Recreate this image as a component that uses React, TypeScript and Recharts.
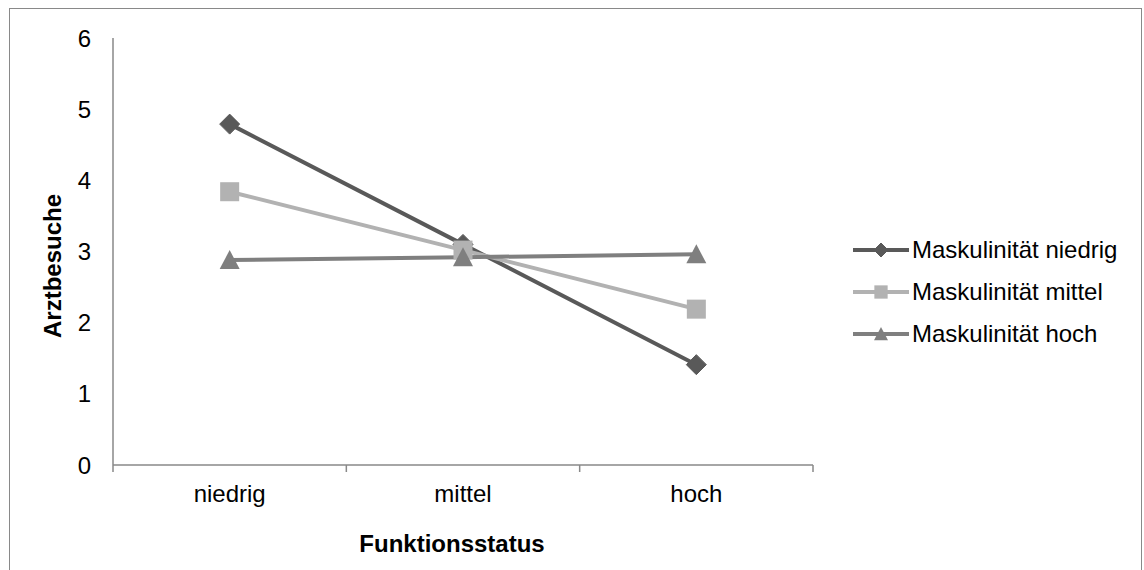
import React from 'react';
import { LineChart, Line, XAxis, YAxis, Legend } from 'recharts';

const categories = ['niedrig', 'mittel', 'hoch'];
const seriesNames = ['Maskulinität niedrig', 'Maskulinität mittel', 'Maskulinität hoch'];
const niedrigValues = [4.79, 3.1, 1.41];
const mittelValues = [3.84, 3.02, 2.19];
const hochValues = [2.88, 2.92, 2.96];
const yTicks = [0, 1, 2, 3, 4, 5, 6];
const xTitle = 'Funktionsstatus';
const yTitle = 'Arztbesuche';

const colors = ['#595959', '#b2b2b2', '#7f7f7f'];
const shapes = ['diamond', 'square', 'triangle'];
const keys = ['s0', 's1', 's2'];

const data = categories.map((c, i) => ({
  pos: i + 0.5,
  category: c,
  s0: niedrigValues[i],
  s1: mittelValues[i],
  s2: hochValues[i],
}));

const xTickValues = [0, 0.5, 1, 1.5, 2, 2.5, 3];

const FONT = '"Liberation Sans", Arial, sans-serif';
const FS = 24;

function Marker({ shape, cx, cy, color, s }: { shape: string; cx: number; cy: number; color: string; s: number }) {
  if (shape === 'diamond') {
    return (
      <polygon
        points={`${cx},${cy - s} ${cx + s},${cy} ${cx},${cy + s} ${cx - s},${cy}`}
        fill={color}
        stroke={color}
        strokeWidth={1}
        strokeLinejoin="round"
      />
    );
  }
  if (shape === 'square') {
    const h = s * 0.95;
    return <rect x={cx - h} y={cy - h} width={2 * h} height={2 * h} fill={color} />;
  }
  return (
    <polygon
      points={`${cx},${cy - s} ${cx + s},${cy + s * 0.9} ${cx - s},${cy + s * 0.9}`}
      fill={color}
    />
  );
}

const makeDot = (idx: number) => (props: any) => {
  const { cx, cy, index } = props;
  if (cx == null || cy == null) return <g key={index} />;
  return (
    <g key={`dot-${idx}-${index}`}>
      <Marker shape={shapes[idx]} cx={cx} cy={cy} color={colors[idx]} s={10} />
    </g>
  );
};

const XTick = (props: any) => {
  const { x, y, payload } = props;
  const v = payload.value;
  if (Number.isInteger(v)) {
    return <line x1={x} x2={x} y1={y} y2={y + 7} stroke="#898989" strokeWidth={1.5} />;
  }
  return (
    <text x={x} y={y + 37} textAnchor="middle" fontSize={FS} fontFamily={FONT} fill="#000">
      {categories[Math.floor(v)]}
    </text>
  );
};

const renderLegend = () => (
  <div style={{ fontFamily: FONT }}>
    {seriesNames.map((name, i) => (
      <div key={name} style={{ display: 'flex', alignItems: 'center', height: 42 }}>
        <svg width={56} height={22} style={{ display: 'block' }}>
          <line x1={0} x2={56} y1={11} y2={11} stroke={colors[i]} strokeWidth={4} />
          <Marker shape={shapes[i]} cx={28} cy={11} color={colors[i]} s={7} />
        </svg>
        <span style={{ fontSize: FS, color: '#000', marginLeft: 3, whiteSpace: 'nowrap', lineHeight: '24px' }}>{name}</span>
      </div>
    ))}
  </div>
);

export default function App() {
  return (
    <div style={{ position: 'absolute', left: 0, top: 0, width: 1144, height: 570, overflow: 'hidden', background: '#fff' }}>
      <div
        style={{
          position: 'absolute',
          left: 9,
          top: 8,
          width: 1133,
          height: 580,
          border: '1.5px solid #898989',
          boxSizing: 'border-box',
        }}
      />
      <div style={{ position: 'absolute', left: 0, top: 0 }}>
        <LineChart width={1144} height={570} data={data} margin={{ top: 38, right: 331, left: 53, bottom: 65 }}>
          <XAxis
            dataKey="pos"
            type="number"
            domain={[0, 3]}
            ticks={xTickValues}
            interval={0}
            tick={<XTick />}
            tickLine={false}
            tickSize={0}
            tickMargin={0}
            height={40}
            axisLine={{ stroke: '#898989', strokeWidth: 1.5 }}
            label={() => (
              <text x={452} y={552} textAnchor="middle" fontSize={FS} fontWeight="bold" fontFamily={FONT} fill="#000">
                {xTitle}
              </text>
            )}
          />
          <YAxis
            type="number"
            domain={[0, 6]}
            ticks={yTicks}
            interval={0}
            width={60}
            tickLine={false}
            tickSize={0}
            tickMargin={22}
            axisLine={{ stroke: '#898989', strokeWidth: 1.5 }}
            tick={{ fontSize: FS, fontFamily: FONT, fill: '#000' }}
            label={() => (
              <text
                x={52}
                y={266}
                transform="rotate(-90 52 266)"
                textAnchor="middle"
                dominantBaseline="central"
                fontSize={FS}
                fontWeight="bold"
                fontFamily={FONT}
                fill="#000"
              >
                {yTitle}
              </text>
            )}
          />
          <Legend
            layout="vertical"
            align="center"
            verticalAlign="middle"
            content={renderLegend}
            wrapperStyle={{ position: 'absolute', left: 853, top: 229, width: 290, height: 130 }}
          />
          {keys.map((k, i) => (
            <Line
              key={k}
              dataKey={k}
              name={seriesNames[i]}
              stroke={colors[i]}
              strokeWidth={4}
              dot={makeDot(i)}
              activeDot={false}
              isAnimationActive={false}
            />
          ))}
        </LineChart>
      </div>
    </div>
  );
}
